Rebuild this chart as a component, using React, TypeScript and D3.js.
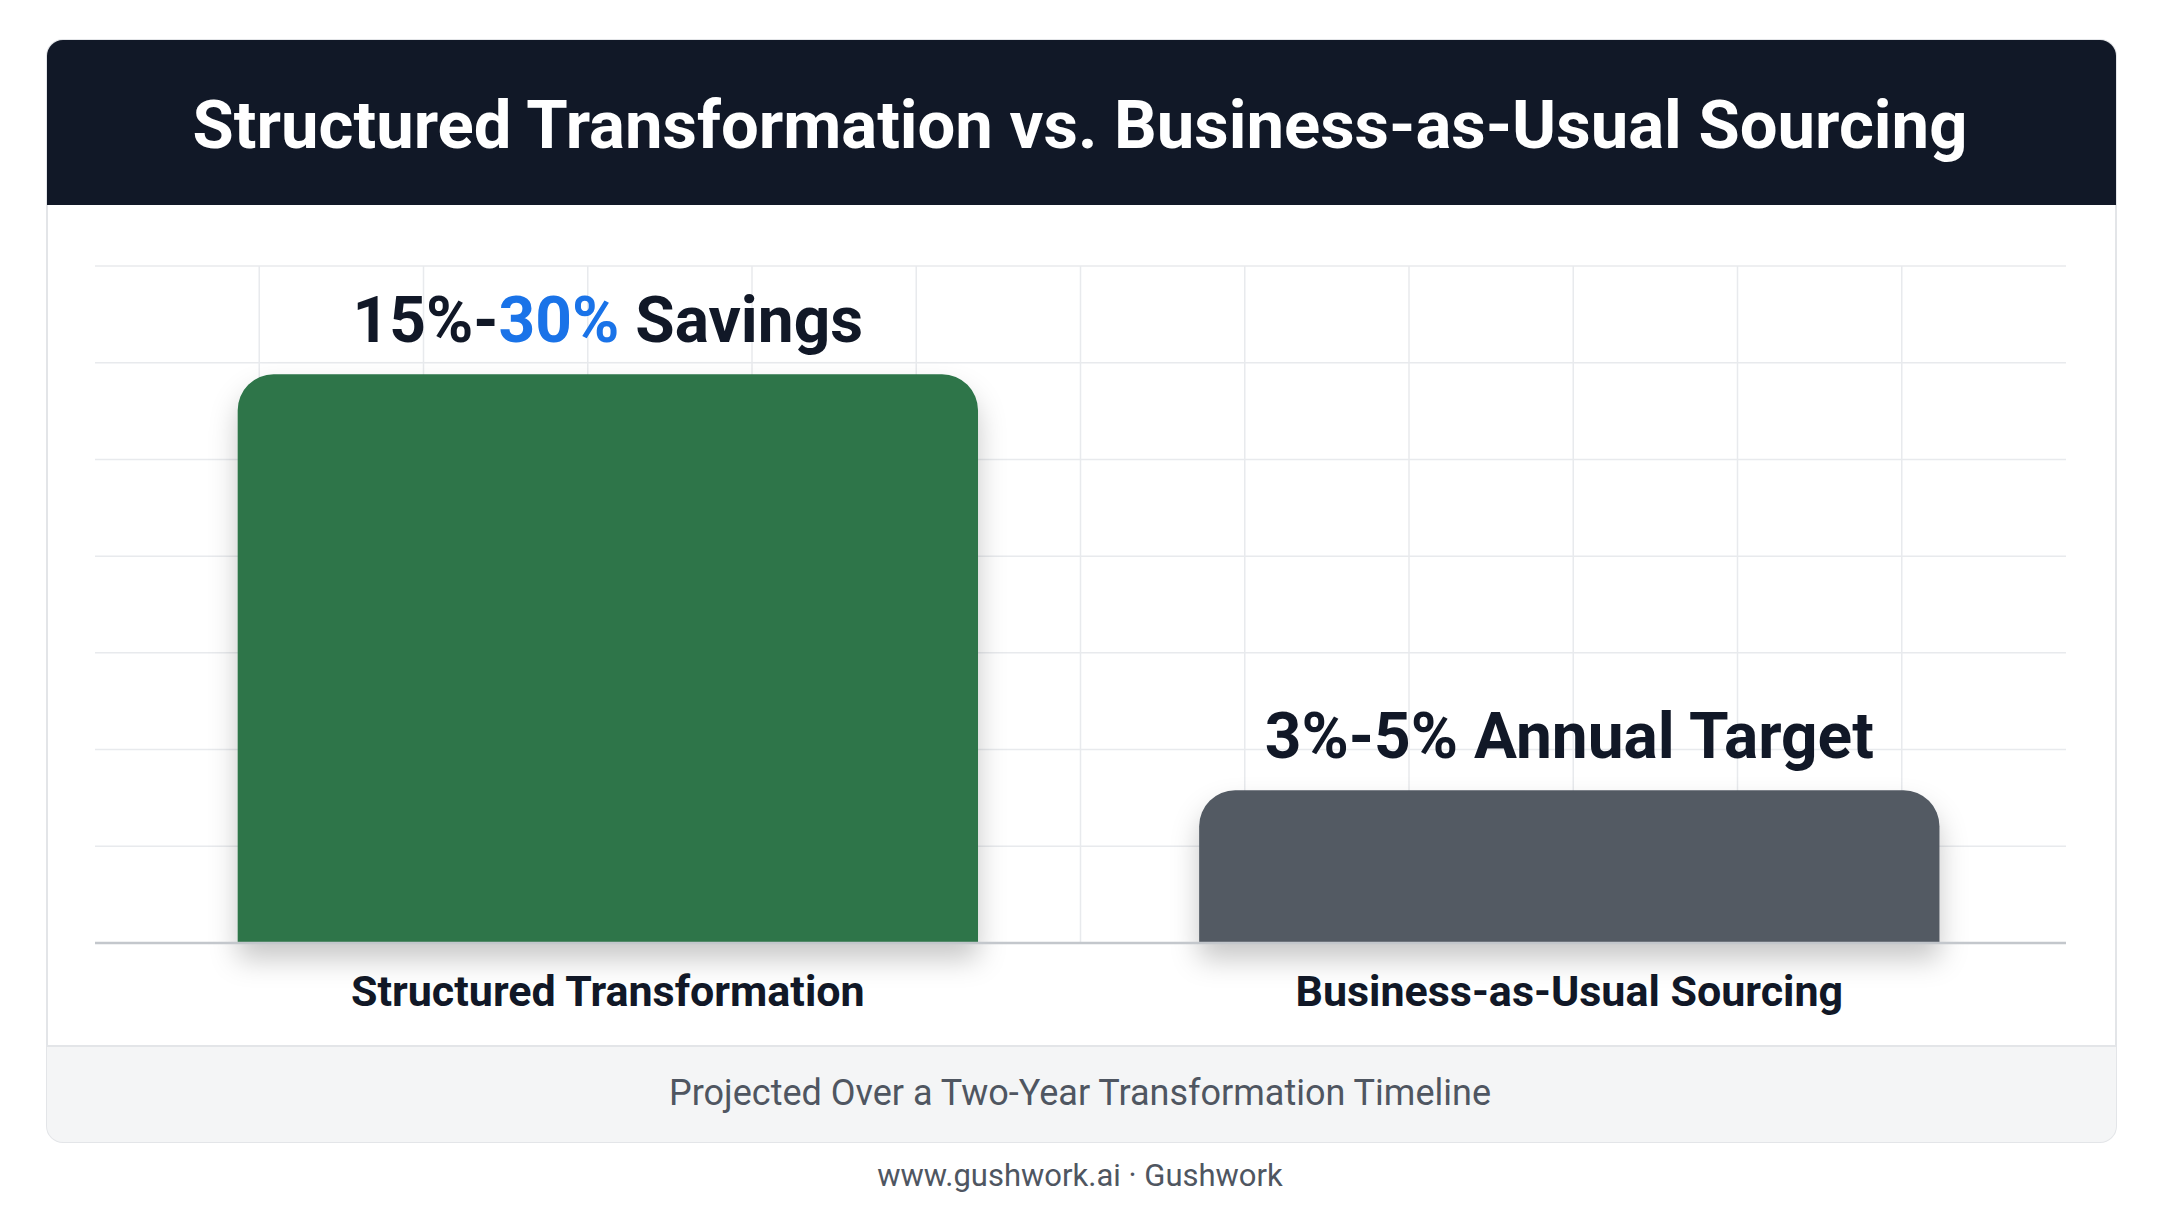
import * as d3 from 'd3';

// chart data
const categories = ['Structured Transformation', 'Business-as-Usual Sourcing'];
const values = [29.4, 7.9];
const barColors = ['#2d7549', '#525a63'];
const labelHead = ['15%-', '3%-5% Annual Target'];
const labelAccent = ['30%', ''];
const labelTail = [' Savings', ''];
const yDomain = [0, 35];
const gridColumns = 12;

const title = 'Structured Transformation vs. Business-as-Usual Sourcing';
const footnote = 'Projected Over a Two-Year Transformation Timeline';
const credit = 'www.gushwork.ai \u00b7 Gushwork';

const W = 2160;
const H = 1206;
const card = { x: 47, y: 40, w: 2069, h: 1102, r: 16 };
const headerH = 165;
const plot = { left: 95, right: 2066, top: 266, bottom: 943 };
const FONT = 'Roboto, "Liberation Sans", Arial, sans-serif';

// bar with rounded top corners only
const topRoundedBar = (x: number, y: number, w: number, h: number, r: number) => {
  const rr = Math.min(r, w / 2, h);
  const p = d3.path();
  p.moveTo(x, y + h);
  p.lineTo(x, y + rr);
  p.arcTo(x, y, x + rr, y, rr);
  p.lineTo(x + w - rr, y);
  p.arcTo(x + w, y, x + w, y + rr, rr);
  p.lineTo(x + w, y + h);
  p.closePath();
  return p.toString();
};

export default function App() {
  const x = d3.scaleBand<string>()
    .domain(categories)
    .range([plot.left, plot.right])
    .paddingInner(0.23)
    .paddingOuter(0.14)
    .align(0.53);

  const y = d3.scaleLinear().domain(yDomain).range([plot.bottom, plot.top]);
  const gx = d3.scaleLinear().domain([0, gridColumns]).range([plot.left, plot.right]);

  const yTicks = y.ticks(7).filter(t => t > 0);
  const xTicks = d3.range(1, gridColumns);

  // header path: rounded on top only
  const headerPath = topRoundedBar(card.x, card.y, card.w, headerH, card.r);

  return (
    <svg width={W} height={H} style={{ position: 'absolute', left: 0, top: 0, display: 'block' }}
      fontFamily={FONT}>
      <defs>
        <filter id="barShadow" x="-20%" y="-20%" width="140%" height="150%">
          <feDropShadow dx="0" dy="16" stdDeviation="14" floodColor="#000" floodOpacity="0.22" />
        </filter>
        <clipPath id="cardClip">
          <rect x={card.x} y={card.y} width={card.w} height={card.h} rx={card.r} />
        </clipPath>
      </defs>
      <rect width={W} height={H} fill="#ffffff" />

      {/* card */}
      <rect x={card.x} y={card.y} width={card.w} height={card.h} rx={card.r}
        fill="#ffffff" stroke="#e3e5e8" strokeWidth={2} />
      <g clipPath="url(#cardClip)">
        <rect x={card.x} y={1046} width={card.w} height={card.y + card.h - 1046} fill="#f4f5f6" />
        <line x1={card.x} x2={card.x + card.w} y1={1046} y2={1046} stroke="#e3e5e8" strokeWidth={2} />
      </g>
      <path d={headerPath} fill="#111827" />
      <text x={W / 2} y={148} textAnchor="middle" fill="#ffffff" fontSize={67} fontWeight={700}>
        {title}
      </text>

      {/* grid */}
      <g stroke="#e8eaed" strokeWidth={1.5}>
        {yTicks.map(t => (
          <line key={'h' + t} x1={plot.left} x2={plot.right} y1={y(t)} y2={y(t)} />
        ))}
        {xTicks.map(t => (
          <line key={'v' + t} x1={gx(t)} x2={gx(t)} y1={plot.top} y2={plot.bottom} />
        ))}
      </g>

      {/* bars */}
      {categories.map((c, i) => {
        const bx = x(c) as number;
        const bw = x.bandwidth();
        const by = y(values[i]);
        return (
          <path key={c} d={topRoundedBar(bx, by, bw, y(0) - by, 36)} fill={barColors[i]}
            filter="url(#barShadow)" />
        );
      })}
      <line x1={plot.left} x2={plot.right} y1={y(0)} y2={y(0)} stroke="#c3c7cc" strokeWidth={2.5} />

      {/* value labels */}
      {categories.map((c, i) => {
        const cx = (x(c) as number) + x.bandwidth() / 2;
        return (
          <text key={'l' + c} x={cx} y={y(values[i]) - 32} textAnchor="middle" fontSize={64}
            fontWeight={700} fill="#111827">
            <tspan>{labelHead[i]}</tspan>
            {labelAccent[i] && <tspan fill="#1a73e8">{labelAccent[i]}</tspan>}
            {labelTail[i] && <tspan>{labelTail[i]}</tspan>}
          </text>
        );
      })}

      {/* category labels */}
      {categories.map(c => (
        <text key={'c' + c} x={(x(c) as number) + x.bandwidth() / 2} y={y(0) + 63} textAnchor="middle"
          fontSize={43} fontWeight={700} fill="#111827">
          {c}
        </text>
      ))}

      <text x={W / 2} y={1105} textAnchor="middle" fontSize={36} fill="#4f5661">{footnote}</text>
      <text x={W / 2} y={1186} textAnchor="middle" fontSize={31} fill="#4f5661">{credit}</text>
    </svg>
  );
}
